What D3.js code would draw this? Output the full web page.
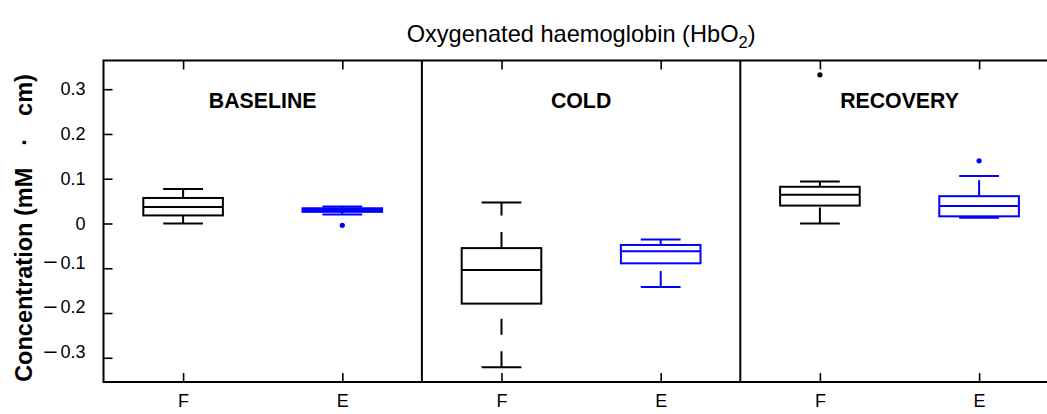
<!DOCTYPE html>
<html>
<head>
<meta charset="utf-8">
<script src="https://cdn.jsdelivr.net/npm/d3@7"></script>
<style>
  html, body { margin: 0; padding: 0; background: #fff; }
  svg text { font-family: "Liberation Sans", Arial, Helvetica, sans-serif; }
</style>
</head>
<body>
<svg id="chart" width="1047" height="414"></svg>
<script>
// Conditions and devices, one box per (condition, device) pair
const conditions = ["BASELINE", "COLD", "RECOVERY"];
const devices = ["F", "E"];
const deviceColors = ["#000000", "#0000ff"];

// Box statistics in mM·cm, ordered BASELINE F, BASELINE E, COLD F, COLD E, RECOVERY F, RECOVERY E
const whiskerLow  = [0.000, 0.020, -0.321, -0.142, 0.000, 0.013];
const quartile1   = [0.018, 0.026, -0.179, -0.089, 0.040, 0.016];
const medians     = [0.037, 0.030, -0.104, -0.062, 0.064, 0.039];
const quartile3   = [0.057, 0.034, -0.055, -0.048, 0.082, 0.061];
const whiskerHigh = [0.077, 0.038,  0.047, -0.036, 0.094, 0.106];
const outliers    = [[], [-0.004], [], [], [0.332], [0.140]];

const yTicks = [-0.3, -0.2, -0.1, 0, 0.1, 0.2, 0.3];

const svg = d3.select("#chart");
const plotLeft = 103.5, plotTop = 60.5, plotBottom = 382;
const step = 159.2;
const plotRight = plotLeft + 6 * step;

const x = d3.scaleLinear().domain([0.5, 6.5]).range([plotLeft, plotRight]);
const y = d3.scaleLinear().domain([-0.3541, 0.3641]).range([plotBottom, plotTop]);

const boxW = 0.5, capW = 0.25;
const lw = 2;

// Axes frame with inward ticks
const tickLen = 9;
const gAxes = svg.append("g");

// left axis; labels are filled in below so the minus sign can be drawn long
const yAxisL = d3.axisLeft(y).tickValues(yTicks).tickSizeInner(-tickLen).tickSizeOuter(0).tickPadding(18).tickFormat("");
const gl = gAxes.append("g").attr("transform", `translate(${plotLeft},0)`).call(yAxisL);
// right axis (ticks only)
const yAxisR = d3.axisRight(y).tickValues(yTicks).tickSizeInner(-tickLen).tickSizeOuter(0).tickFormat("");
const gr = gAxes.append("g").attr("transform", `translate(${plotRight},0)`).call(yAxisR);
// bottom axis
const positions = d3.range(1, 7);
const xAxisB = d3.axisBottom(x).tickValues(positions).tickSizeInner(-tickLen).tickSizeOuter(0).tickPadding(12)
  .tickFormat(d => devices[(d - 1) % 2]);
const gb = gAxes.append("g").attr("transform", `translate(0,${plotBottom})`).call(xAxisB);
// top axis (ticks only)
const xAxisT = d3.axisTop(x).tickValues(positions).tickSizeInner(-tickLen).tickSizeOuter(0).tickFormat("");
const gt = gAxes.append("g").attr("transform", `translate(0,${plotTop})`).call(xAxisT);

[gl, gr, gb, gt].forEach(g => {
  g.select(".domain").remove();
  g.selectAll(".tick line").attr("stroke", "#000").attr("stroke-width", 1.6);
  g.selectAll(".tick text").attr("fill", "#000").attr("font-size", 18)
    .style("font-family", '"Liberation Sans", Arial, sans-serif');
});
gb.selectAll(".tick text").attr("dy", "0.71em");

// y tick labels: a wide dash for negatives, then the magnitude
gl.selectAll(".tick text").each(function (d) {
  const t = d3.select(this);
  t.text(null);
  if (d < 0) {
    t.append("tspan").attr("font-size", 22).attr("dy", "-0.03em").text("\u2013");
    t.append("tspan").attr("dx", 4).attr("dy", "0.03em").text(d3.format(".1f")(-d));
  } else {
    t.text(d === 0 ? "0" : d3.format(".1f")(d));
  }
});

// frame
gAxes.append("rect")
  .attr("x", plotLeft).attr("y", plotTop)
  .attr("width", plotRight - plotLeft).attr("height", plotBottom - plotTop)
  .attr("fill", "none").attr("stroke", "#000").attr("stroke-width", lw);

// condition separators
[2.5, 4.5].forEach(v => {
  gAxes.append("line")
    .attr("x1", x(v)).attr("x2", x(v))
    .attr("y1", plotTop).attr("y2", plotBottom)
    .attr("stroke", "#000").attr("stroke-width", lw);
});

// condition labels
conditions.forEach((c, i) => {
  svg.append("text")
    .attr("x", x(2 * i + 1.5)).attr("y", 108)
    .attr("text-anchor", "middle")
    .attr("font-size", 21.3).attr("font-weight", "bold")
    .text(c);
});

// boxes
const gBoxes = svg.append("g");
positions.forEach((p, i) => {
  const col = deviceColors[i % 2];
  const g = gBoxes.append("g").attr("stroke", col).attr("fill", "none").attr("stroke-width", lw);
  // whiskers, dashed, drawn upward
  g.append("path")
    .attr("d", `M${x(p)},${y(quartile3[i])}L${x(p)},${y(whiskerHigh[i])}`)
    .attr("stroke-dasharray", "16,16.5");
  g.append("path")
    .attr("d", `M${x(p)},${y(whiskerLow[i])}L${x(p)},${y(quartile1[i])}`)
    .attr("stroke-dasharray", "16,16.5");
  // caps
  [whiskerLow[i], whiskerHigh[i]].forEach(v => {
    g.append("line")
      .attr("x1", x(p - capW / 2)).attr("x2", x(p + capW / 2))
      .attr("y1", y(v)).attr("y2", y(v));
  });
  // box
  g.append("rect")
    .attr("x", x(p - boxW / 2)).attr("width", x(p + boxW / 2) - x(p - boxW / 2))
    .attr("y", y(quartile3[i])).attr("height", y(quartile1[i]) - y(quartile3[i]));
  // median
  g.append("line")
    .attr("x1", x(p - boxW / 2)).attr("x2", x(p + boxW / 2))
    .attr("y1", y(medians[i])).attr("y2", y(medians[i]));
  // outliers
  outliers[i].forEach(v => {
    gBoxes.append("circle")
      .attr("cx", x(p)).attr("cy", y(v)).attr("r", 2.6)
      .attr("fill", col);
  });
});

// title
const title = svg.append("text")
  .attr("x", x(3.5)).attr("y", 41.5)
  .attr("text-anchor", "middle")
  .attr("font-size", 23.6);
title.append("tspan").text("Oxygenated haemoglobin (HbO");
title.append("tspan").attr("font-size", 16.5).attr("dy", 6).text("2");
title.append("tspan").attr("dy", -6).text(")");

// y label, with a spaced centre dot
const ylab = svg.append("text")
  .attr("transform", "translate(32,228) rotate(-90)")
  .attr("text-anchor", "middle")
  .attr("font-size", 23.5).attr("font-weight", "bold");
ylab.append("tspan").text("Concentration (mM");
ylab.append("tspan").attr("dx", 22).text("\u00B7");
ylab.append("tspan").attr("dx", 22).text("cm)");
</script>
</body>
</html>
